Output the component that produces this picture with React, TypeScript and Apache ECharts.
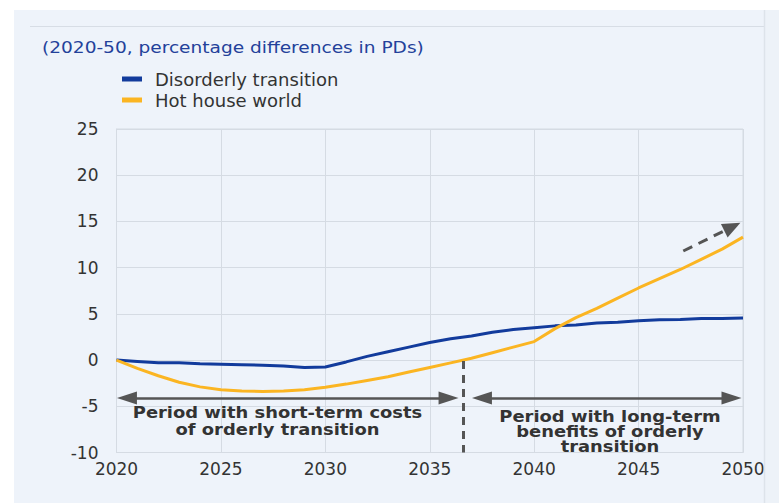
import React, { useEffect, useRef } from "react";
import * as echarts from "echarts";

const years = [
  2020, 2021, 2022, 2023, 2024, 2025, 2026, 2027, 2028, 2029, 2030,
  2031, 2032, 2033, 2034, 2035, 2036, 2037, 2038, 2039, 2040,
  2041, 2042, 2043, 2044, 2045, 2046, 2047, 2048, 2049, 2050,
];
const disorderly = [
  0, -0.15, -0.3, -0.3, -0.4, -0.45, -0.5, -0.55, -0.65, -0.8, -0.75,
  -0.2, 0.4, 0.9, 1.4, 1.9, 2.3, 2.6, 3.0, 3.3, 3.5,
  3.7, 3.8, 4.0, 4.1, 4.25, 4.35, 4.4, 4.5, 4.5, 4.55,
];
const hotHouse = [
  0, -0.9, -1.7, -2.4, -2.9, -3.2, -3.35, -3.4, -3.35, -3.2, -2.95,
  -2.6, -2.2, -1.8, -1.3, -0.8, -0.3, 0.2, 0.8, 1.4, 2.0,
  3.4, 4.6, 5.6, 6.7, 7.8, 8.8, 9.8, 10.9, 12.0, 13.3,
];
const seriesNames = ["Disorderly transition", "Hot house world"];
const titleText = "(2020-50, percentage differences in PDs)";
const leftNote = ["Period with short-term costs", "of orderly transition"];
const rightNote = ["Period with long-term", "benefits of orderly", "transition"];
const splitYear = 2036.6;

const BLUE = "#123b9c";
const YELLOW = "#fbb522";
const GRID = "#d5dbe3";
const DARK = "#555555";
const FONT = "DejaVu Sans";

export default function App() {
  const ref = useRef<HTMLDivElement>(null);

  useEffect(() => {
    if (!ref.current) return;
    const chart = echarts.init(ref.current, undefined, { renderer: "svg" });

    const noteText = (text: string, x: number, y: number) => ({
      type: "text",
      x,
      y,
      scaleX: 1.12,
      z: 50,
      silent: true,
      style: {
        text,
        fill: "#333333",
        fontFamily: FONT,
        fontSize: 16,
        fontWeight: "bold",
        align: "center",
        verticalAlign: "middle",
      },
    });

    const option: any = {
      animation: false,
      backgroundColor: "#ffffff",
      grid: {
        left: 116.5,
        right: 36,
        top: 129,
        bottom: 50.5,
        show: true,
        borderColor: GRID,
        borderWidth: 1,
        backgroundColor: "transparent",
        containLabel: false,
      },
      xAxis: {
        type: "value",
        min: 2020,
        max: 2050,
        interval: 5,
        axisLine: { show: true, onZero: false, lineStyle: { color: GRID } },
        axisTick: { show: false },
        splitLine: { show: true, lineStyle: { color: GRID, width: 1 } },
        axisLabel: {
          color: "#333333",
          fontFamily: FONT,
          fontSize: 17,
          margin: 8,
          showMinLabel: true,
          showMaxLabel: true,
          formatter: (v: number) => String(v),
        },
      },
      yAxis: {
        type: "value",
        min: -10,
        max: 25,
        interval: 5,
        axisLine: { show: true, onZero: false, lineStyle: { color: GRID } },
        axisTick: { show: false },
        splitLine: { show: true, lineStyle: { color: GRID, width: 1 } },
        axisLabel: {
          color: "#333333",
          fontFamily: FONT,
          fontSize: 17,
          margin: 18,
        },
      },
      legend: {
        orient: "vertical",
        left: 117,
        top: 65,
        itemWidth: 20,
        itemHeight: 5,
        itemGap: 3,
        icon: "rect",
        data: seriesNames,
        textStyle: {
          color: "#333333",
          fontFamily: FONT,
          fontSize: 18,
          padding: [0, 0, 0, 8],
        },
      },
      series: [
        {
          name: seriesNames[0],
          type: "line",
          data: years.map((y, i) => [y, disorderly[i]]),
          showSymbol: false,
          lineStyle: { color: BLUE, width: 3 },
          itemStyle: { color: BLUE },
          z: 3,
          markLine: {
            silent: true,
            animation: false,
            label: { show: false },
            emphasis: { disabled: true },
            data: [
              [
                { coord: [2020.5, -4.1], symbol: "triangle", symbolSize: [13, 20] },
                { coord: [2035.9, -4.1], symbol: "triangle", symbolSize: [13, 20] },
              ],
              [
                { coord: [2037.5, -4.1], symbol: "triangle", symbolSize: [13, 20] },
                { coord: [2049.45, -4.1], symbol: "triangle", symbolSize: [13, 20] },
              ],
            ].map((pair) =>
              pair.map((p) => ({ ...p, lineStyle: { color: DARK, width: 2.5, type: "solid" } }))
            ),
          },
        },
        {
          name: seriesNames[1],
          type: "line",
          data: years.map((y, i) => [y, hotHouse[i]]),
          showSymbol: false,
          lineStyle: { color: YELLOW, width: 3 },
          itemStyle: { color: YELLOW },
          z: 4,
          markLine: {
            silent: true,
            animation: false,
            label: { show: false },
            emphasis: { disabled: true },
            data: [
              [
                { coord: [splitYear, -0.1], symbol: "none", lineStyle: { color: DARK, width: 3, type: [8, 6] } },
                { coord: [splitYear, -10], symbol: "none" },
              ],
              [
                { coord: [2047.14, 11.8], symbol: "none", lineStyle: { color: DARK, width: 3, type: [10, 7] } },
                { coord: [2049.49, 14.42], symbol: "triangle", symbolSize: [15, 18] },
              ],
            ],
          },
        },
      ],
      graphic: [
        {
          type: "rect",
          z: -100,
          silent: true,
          shape: { x: 14, y: 10, width: 765, height: 493 },
          style: { fill: "#eef3fa" },
        },
        {
          type: "line",
          z: -50,
          silent: true,
          shape: { x1: 30, y1: 26.5, x2: 779, y2: 26.5 },
          style: { stroke: "#d7dde5", lineWidth: 1 },
        },
        {
          type: "rect",
          z: 100,
          silent: true,
          shape: { x: 765, y: 10, width: 14, height: 493 },
          style: { fill: "#edf2f8" },
        },
        {
          type: "line",
          z: 101,
          silent: true,
          shape: { x1: 764.5, y1: 10, x2: 764.5, y2: 503 },
          style: { stroke: "#dde3ea", lineWidth: 1.5 },
        },
        {
          type: "text",
          x: 42,
          y: 47,
          scaleX: 1.16,
          z: 50,
          silent: true,
          style: {
            text: titleText,
            fill: "#23419a",
            fontFamily: FONT,
            fontSize: 16,
            align: "left",
            verticalAlign: "middle",
          },
        },
        noteText(leftNote[0], 277.5, 412.5),
        noteText(leftNote[1], 277.5, 429.5),
        noteText(rightNote[0], 610, 416.5),
        noteText(rightNote[1], 610, 431.5),
        noteText(rightNote[2], 610, 446.5),
      ],
    };

    chart.setOption(option);
    return () => chart.dispose();
  }, []);

  return (
    <div
      ref={ref}
      style={{ position: "fixed", left: 0, top: 0, width: 779, height: 503 }}
    />
  );
}
